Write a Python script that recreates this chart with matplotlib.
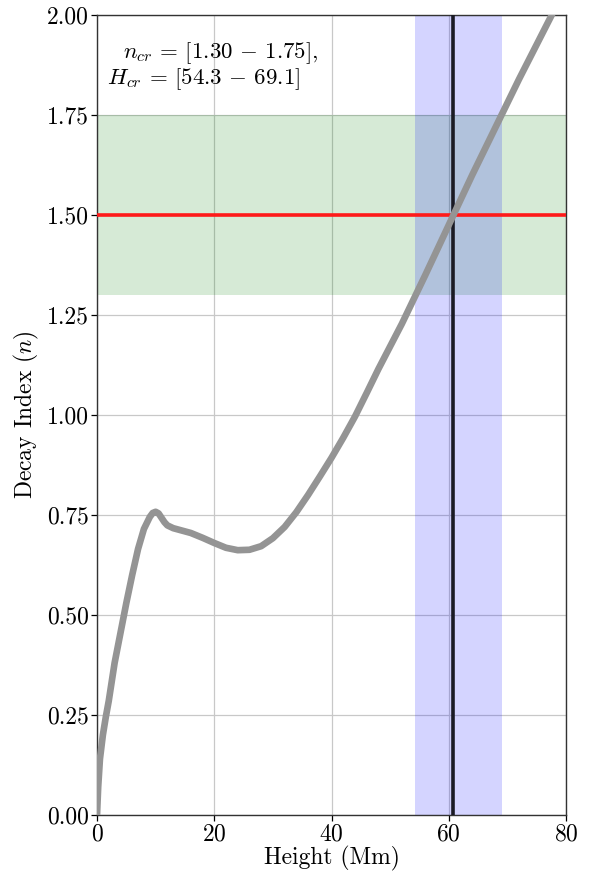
import matplotlib
matplotlib.use("Agg")
import matplotlib.pyplot as plt
import numpy as np

plt.rcParams['font.family'] = 'serif'
plt.rcParams['font.serif'] = ['cmr10', 'DejaVu Serif']
plt.rcParams['mathtext.fontset'] = 'cm'
plt.rcParams['axes.formatter.use_mathtext'] = True
plt.rcParams['axes.unicode_minus'] = False

# Data
height = [0, 0.2, 0.5, 1, 1.5, 2, 3, 4, 5, 6, 7, 8, 9, 9.5, 10, 10.5, 11, 11.5,
          12, 13, 14, 16, 18, 20, 22, 24, 26, 28, 30, 32, 34, 36, 38, 40, 42,
          44, 46, 48, 52, 56, 60, 64, 68, 72, 76, 80]
decay_index = [0.0, 0.07, 0.14, 0.2, 0.245, 0.285, 0.38, 0.455, 0.53, 0.60,
               0.665, 0.715, 0.745, 0.755, 0.758, 0.754, 0.743, 0.732, 0.724,
               0.717, 0.713, 0.705, 0.693, 0.68, 0.668, 0.662, 0.663, 0.672,
               0.692, 0.72, 0.757, 0.80, 0.846, 0.893, 0.943, 0.996, 1.055,
               1.115, 1.228, 1.35, 1.475, 1.60, 1.72, 1.84, 1.955, 2.07]

n_cr_range = [1.30, 1.75]
n_cr = 1.5
h_cr_range = [54.3, 69.1]
h_cr = 60.8

fig = plt.figure(figsize=(5.93, 8.72), dpi=100)
ax = fig.add_axes([0.1636, 0.0654, 0.9545 - 0.1636, 0.9828 - 0.0654])

ax.axhspan(n_cr_range[0], n_cr_range[1], color='green', alpha=0.16, lw=0, zorder=1)
ax.axvspan(h_cr_range[0], h_cr_range[1], color='blue', alpha=0.17, lw=0, zorder=1)
ax.axhline(n_cr, color='#ff1a1a', lw=2.6, zorder=3)
ax.axvline(h_cr, color='#1a1a24', lw=2.6, zorder=3)
ax.plot(height, decay_index, color='#949494', lw=4.8, solid_capstyle='round',
        solid_joinstyle='round', zorder=4)

ax.set_xlim(0, 80)
ax.set_ylim(0, 2)
ax.set_xticks([0, 20, 40, 60, 80])
ax.set_yticks(np.arange(0, 2.01, 0.25))
ax.set_yticklabels([f"{v:.2f}" for v in np.arange(0, 2.01, 0.25)])
ax.grid(True, color='#c8c8c8', lw=0.9, zorder=0)
ax.set_axisbelow(True)
ax.tick_params(labelsize=17, length=4, width=0.9, pad=2)
for s in ax.spines.values():
    s.set_linewidth(1.0)
    s.set_color('#333333')

ax.set_xlabel('Height (Mm)', fontsize=17, labelpad=0)
ax.set_ylabel('Decay Index ($n$)', fontsize=17, labelpad=4)

ax.text(0.055, 0.969, r'$n_{cr}\,=\,[1.30\,-\,1.75]$,', transform=ax.transAxes,
        fontsize=16.5, ha='left', va='top', zorder=5)
ax.text(0.022, 0.936, r'$H_{cr}\,=\,[54.3\,-\,69.1]$', transform=ax.transAxes,
        fontsize=16.5, ha='left', va='top', zorder=5)

fig.savefig('out.png', dpi=100)
